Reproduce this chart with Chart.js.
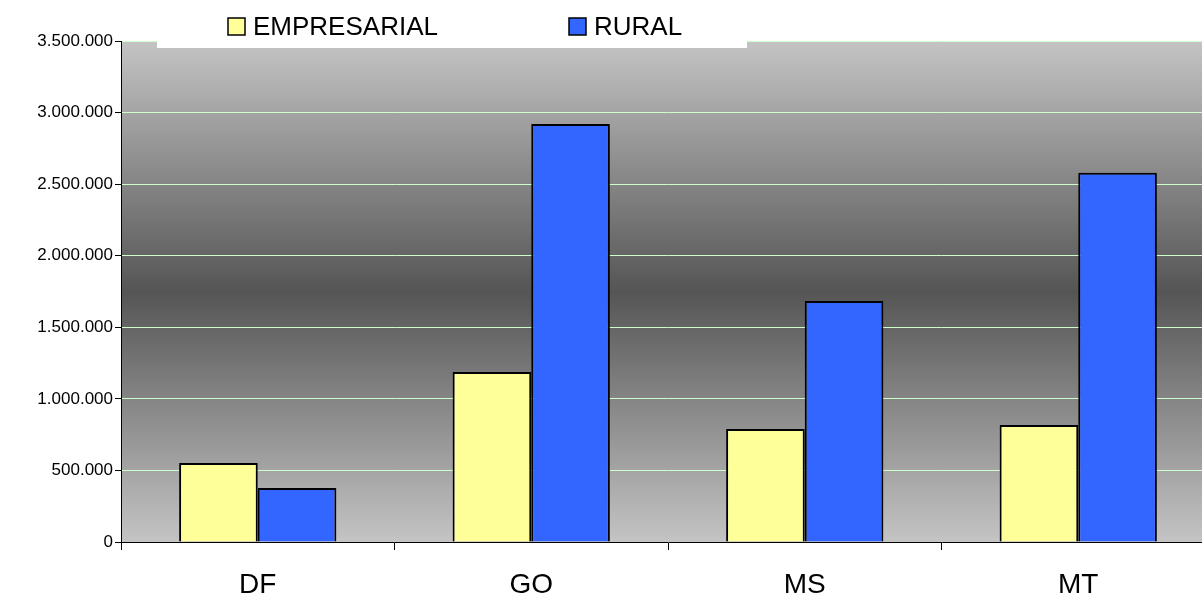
<!DOCTYPE html>
<html>
<head>
<script src="https://cdn.jsdelivr.net/npm/chart.js"></script>
<style>
  body{margin:0;background:#fff;overflow:hidden;width:1202px;height:598px;}
</style>
</head>
<body>
<canvas id="c" width="1215" height="598"></canvas>
<script>
const categories = ['DF', 'GO', 'MS', 'MT'];
const empresarial = [552000, 1188000, 790000, 818000];
const rural = [377000, 2921000, 1684000, 2579000];
const seriesNames = ['EMPRESARIAL', 'RURAL'];

function fmt(v){ return v.toString().replace(/\B(?=(\d{3})+(?!\d))/g, '.'); }

// gradient background of plot area + legend box
const bgPlugin = {
  id: 'bg',
  beforeDraw(chart){
    const {ctx, chartArea:a} = chart;
    const g = ctx.createLinearGradient(0, a.top, 0, a.bottom);
    g.addColorStop(0, '#c4c4c4');
    g.addColorStop(0.5, '#555555');
    g.addColorStop(1, '#c4c4c4');
    ctx.save();
    ctx.fillStyle = g;
    ctx.fillRect(a.left, a.top, a.right - a.left, a.bottom - a.top);
    ctx.restore();
  },
  afterDraw(chart){
    const ctx = chart.ctx;
    ctx.save();
    ctx.fillStyle = '#fff';
    ctx.fillRect(157, 0, 590, 48);
    ctx.font = '26px "Liberation Sans", Arial';
    ctx.textBaseline = 'middle';
    const items = [[228, '#ffff99', seriesNames[0]], [569, '#3366ff', seriesNames[1]]];
    items.forEach(([x, col, txt]) => {
      ctx.fillStyle = col;
      ctx.fillRect(x, 18, 17, 17);
      ctx.strokeStyle = '#000';
      ctx.lineWidth = 1.5;
      ctx.strokeRect(x, 18, 17, 17);
      ctx.fillStyle = '#000';
      ctx.fillText(txt, x + 25, 28);
    });
    ctx.restore();
  }
};

new Chart(document.getElementById('c'), {
  type: 'bar',
  data: {
    labels: categories,
    datasets: [
      {label: seriesNames[0], data: empresarial, backgroundColor: '#ffff99', borderColor: '#000', borderWidth: 2},
      {label: seriesNames[1], data: rural, backgroundColor: '#3366ff', borderColor: '#000', borderWidth: 2}
    ]
  },
  options: {
    responsive: false,
    animation: false,
    layout: {padding: {top: 41, right: 0, left: 0}},
    categoryPercentage: 0.575,
    barPercentage: 1,
    plugins: {legend: {display: false}, tooltip: {enabled: false}},
    scales: {
      x: {
        afterFit: s => { s.height = 56; },
        grid: {offset: true, drawOnChartArea: false, color: '#000', tickLength: 8},
        border: {color: '#000'},
        ticks: {color: '#000', font: {size: 28, family: '"Liberation Sans", Arial'}, padding: 18}
      },
      y: {
        min: 0, max: 3500000,
        afterFit: s => { s.width = 121; },
        ticks: {stepSize: 500000, color: '#000', font: {size: 17, family: '"Liberation Sans", Arial'}, padding: 2, callback: v => fmt(v)},
        grid: {color: ctx => ctx.tick.value === 0 ? 'rgba(0,0,0,0)' : '#ccffcc', tickColor: '#000', tickLength: 6},
        border: {color: '#000'}
      }
    }
  },
  plugins: [bgPlugin]
});
</script>
</body>
</html>
